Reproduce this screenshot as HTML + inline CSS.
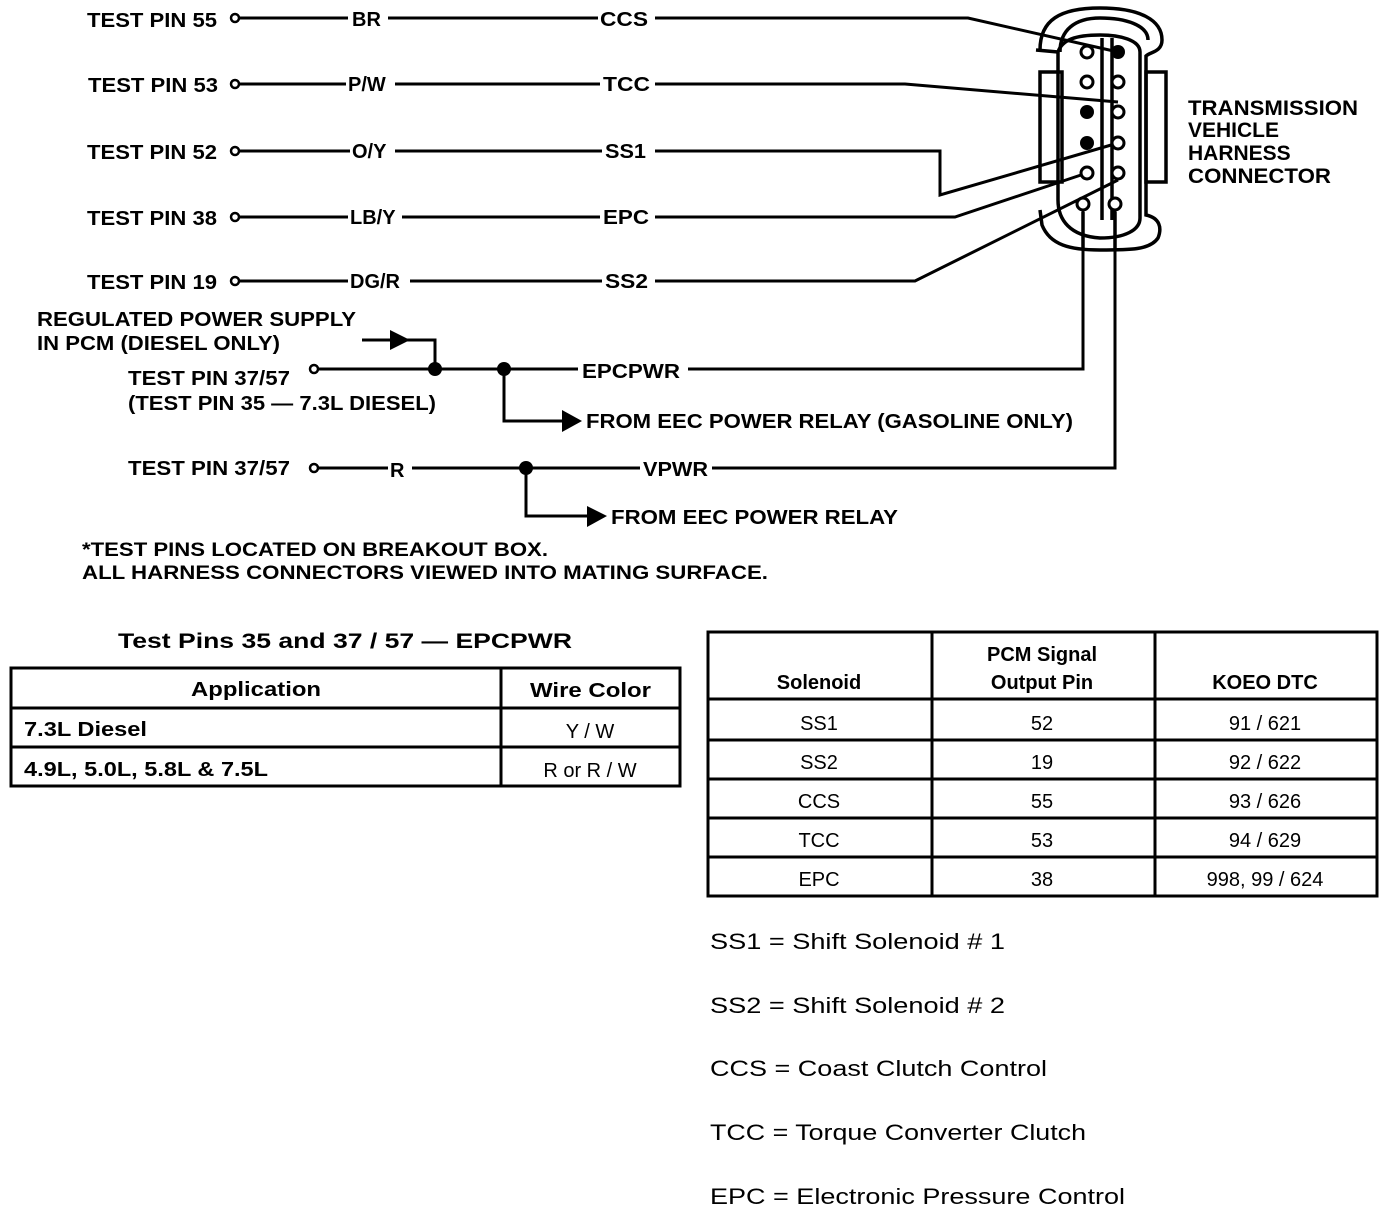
<!DOCTYPE html>
<html><head><meta charset="utf-8"><style>
html,body{margin:0;padding:0;background:#fff;}
svg{display:block;}
text{font-family:"Liberation Sans",sans-serif;fill:#000;font-weight:bold;}
.n{font-weight:normal;}
</style></head><body>
<svg width="1392" height="1212" viewBox="0 0 1392 1212" xmlns="http://www.w3.org/2000/svg">
<g stroke="#000" stroke-width="3" fill="none">
<path d="M240 18H348M388 18H598M655 18H968L1118 52"/>
<path d="M240 84H346M395 84H600M655 84H905L1118 102"/>
<path d="M240 151H350M395 151H602M655 151H940V195L1118 143"/>
<path d="M240 217H348M402 217H600M655 217H955L1087 173"/>
<path d="M240 281H348M410 281H602M655 281H915L1118 180"/>
<path d="M318 369H578M688 369H1083V205"/>
<path d="M362 340H435V369"/>
<path d="M504 369V421H565"/>
<path d="M318 468H388M412 468H640M712 468H1115V205"/>
<path d="M526 468V516H590"/>
</g>
<g fill="#fff" stroke="#000" stroke-width="2.5">
<circle cx="235" cy="18" r="4"/><circle cx="235" cy="84" r="4"/><circle cx="235" cy="151" r="4"/>
<circle cx="235" cy="217" r="4"/><circle cx="235" cy="281" r="4"/><circle cx="314" cy="369" r="4"/><circle cx="314" cy="468" r="4"/>
</g>
<g fill="#000">
<circle cx="435" cy="369" r="7"/><circle cx="504" cy="369" r="7"/><circle cx="526" cy="468" r="7"/>
<polygon points="390,330 410,340 390,350"/>
<polygon points="562,410 582,421 562,432"/>
<polygon points="587,506 607,516 587,527"/>
</g>
<g stroke="#000" stroke-width="3.5" fill="none">
<path d="M1040 50 C1040 20 1060 8 1100 8 C1140 8 1162 20 1162 40 C1162 52 1150 52 1146 56 V215 C1160 218 1162 228 1158 238 C1150 250 1130 250 1100 250 C1070 250 1050 245 1042 225 L1040 210"/>
<path d="M1060 52 C1060 30 1075 18 1100 18 C1125 18 1148 25 1148 40"/>
<path d="M1058 52 V200 C1058 220 1070 236 1100 238 C1125 238 1140 230 1140 218 V52 C1140 40 1120 35 1100 35 C1075 35 1062 40 1058 52"/>
<rect x="1040" y="72" width="22" height="110"/>
<rect x="1146" y="72" width="20" height="110"/>
<path d="M1036 50 L1058 52"/>
<path d="M1102 38 V220 M1112 38 V220"/>
<path d="M1083 212 V250 M1115 212 V250"/>
</g>
<g stroke="#000" stroke-width="3" fill="#fff">
<circle cx="1087" cy="52" r="6"/><circle cx="1087" cy="82" r="6"/>
<circle cx="1118" cy="82" r="6"/><circle cx="1118" cy="112" r="6"/><circle cx="1118" cy="143" r="6"/>
<circle cx="1087" cy="173" r="6"/><circle cx="1118" cy="173" r="6"/><circle cx="1083" cy="204" r="6"/><circle cx="1115" cy="204" r="6"/>
</g>
<g fill="#000"><circle cx="1118" cy="52" r="7"/><circle cx="1087" cy="112" r="7"/><circle cx="1087" cy="143" r="7"/></g>
<g font-size="20" lengthAdjust="spacingAndGlyphs">
<text x="1188" y="115" font-size="21" textLength="170" lengthAdjust="spacingAndGlyphs">TRANSMISSION</text>
<text x="1188" y="137" font-size="21">VEHICLE</text>
<text x="1188" y="160" font-size="21">HARNESS</text>
<text x="1188" y="183" font-size="21" textLength="143" lengthAdjust="spacingAndGlyphs">CONNECTOR</text>
<text x="87" y="27" textLength="130" lengthAdjust="spacingAndGlyphs">TEST PIN 55</text><text x="352" y="26">BR</text><text x="600" y="26" textLength="48" lengthAdjust="spacingAndGlyphs">CCS</text>
<text x="88" y="92" textLength="130" lengthAdjust="spacingAndGlyphs">TEST PIN 53</text><text x="348" y="91">P/W</text><text x="603" y="91" textLength="47" lengthAdjust="spacingAndGlyphs">TCC</text>
<text x="87" y="159" textLength="130" lengthAdjust="spacingAndGlyphs">TEST PIN 52</text><text x="352" y="158">O/Y</text><text x="605" y="158" textLength="41" lengthAdjust="spacingAndGlyphs">SS1</text>
<text x="87" y="225" textLength="130" lengthAdjust="spacingAndGlyphs">TEST PIN 38</text><text x="350" y="224">LB/Y</text><text x="603" y="224" textLength="46" lengthAdjust="spacingAndGlyphs">EPC</text>
<text x="87" y="289" textLength="130" lengthAdjust="spacingAndGlyphs">TEST PIN 19</text><text x="350" y="288">DG/R</text><text x="605" y="288" textLength="43" lengthAdjust="spacingAndGlyphs">SS2</text>
<text x="37" y="326" textLength="319" lengthAdjust="spacingAndGlyphs">REGULATED POWER SUPPLY</text>
<text x="37" y="350" textLength="243" lengthAdjust="spacingAndGlyphs">IN PCM (DIESEL ONLY)</text>
<text x="128" y="385" textLength="162" lengthAdjust="spacingAndGlyphs">TEST PIN 37/57</text>
<text x="128" y="410" textLength="308" lengthAdjust="spacingAndGlyphs">(TEST PIN 35 — 7.3L DIESEL)</text>
<text x="582" y="378" textLength="98" lengthAdjust="spacingAndGlyphs">EPCPWR</text>
<text x="586" y="428" textLength="487" lengthAdjust="spacingAndGlyphs">FROM EEC POWER RELAY (GASOLINE ONLY)</text>
<text x="128" y="475" textLength="162" lengthAdjust="spacingAndGlyphs">TEST PIN 37/57</text>
<text x="390" y="477">R</text>
<text x="643" y="476" textLength="65" lengthAdjust="spacingAndGlyphs">VPWR</text>
<text x="611" y="524" textLength="287" lengthAdjust="spacingAndGlyphs">FROM EEC POWER RELAY</text>
<text x="82" y="556" font-size="19" textLength="466" lengthAdjust="spacingAndGlyphs">*TEST PINS LOCATED ON BREAKOUT BOX.</text>
<text x="82" y="579" font-size="19" textLength="686" lengthAdjust="spacingAndGlyphs">ALL HARNESS CONNECTORS VIEWED INTO MATING SURFACE.</text>
<text x="118" y="648" font-size="21" textLength="454" lengthAdjust="spacingAndGlyphs">Test Pins 35 and 37 / 57 — EPCPWR</text>
</g>
<g stroke="#000" stroke-width="3" fill="none">
<rect x="11" y="668" width="669" height="118"/>
<path d="M11 708H680M11 747H680M501 668V786"/>
<rect x="708" y="632" width="669" height="264"/>
<path d="M708 699H1377M708 740H1377M708 779H1377M708 818H1377M708 857H1377M932 632V896M1155 632V896"/>
</g>
<g font-size="20">
<text x="191" y="696" textLength="130" lengthAdjust="spacingAndGlyphs">Application</text>
<text x="530" y="697" textLength="121" lengthAdjust="spacingAndGlyphs">Wire Color</text>
<text x="24" y="736" textLength="123" lengthAdjust="spacingAndGlyphs">7.3L Diesel</text>
<text x="590" y="738" text-anchor="middle" class="n">Y / W</text>
<text x="24" y="776" textLength="244" lengthAdjust="spacingAndGlyphs">4.9L, 5.0L, 5.8L &amp; 7.5L</text>
<text x="590" y="777" text-anchor="middle" class="n">R or R / W</text>
<text x="819" y="689" text-anchor="middle">Solenoid</text>
<text x="1042" y="661" text-anchor="middle">PCM Signal</text>
<text x="1042" y="689" text-anchor="middle">Output Pin</text>
<text x="1265" y="689" text-anchor="middle">KOEO DTC</text>
<g text-anchor="middle">
<text x="819" y="730" class="n">SS1</text><text x="1042" y="730" class="n">52</text><text x="1265" y="730" class="n">91 / 621</text>
<text x="819" y="769" class="n">SS2</text><text x="1042" y="769" class="n">19</text><text x="1265" y="769" class="n">92 / 622</text>
<text x="819" y="808" class="n">CCS</text><text x="1042" y="808" class="n">55</text><text x="1265" y="808" class="n">93 / 626</text>
<text x="819" y="847" class="n">TCC</text><text x="1042" y="847" class="n">53</text><text x="1265" y="847" class="n">94 / 629</text>
<text x="819" y="886" class="n">EPC</text><text x="1042" y="886" class="n">38</text><text x="1265" y="886" class="n">998, 99 / 624</text>
</g>
<g font-size="22">
<text x="710" y="949" class="n" textLength="295" lengthAdjust="spacingAndGlyphs">SS1 = Shift Solenoid # 1</text>
<text x="710" y="1013" class="n" textLength="295" lengthAdjust="spacingAndGlyphs">SS2 = Shift Solenoid # 2</text>
<text x="710" y="1076" class="n" textLength="337" lengthAdjust="spacingAndGlyphs">CCS = Coast Clutch Control</text>
<text x="710" y="1140" class="n" textLength="376" lengthAdjust="spacingAndGlyphs">TCC = Torque Converter Clutch</text>
<text x="710" y="1204" class="n" textLength="415" lengthAdjust="spacingAndGlyphs">EPC = Electronic Pressure Control</text>
</g>
</g>
</svg>
</body></html>
